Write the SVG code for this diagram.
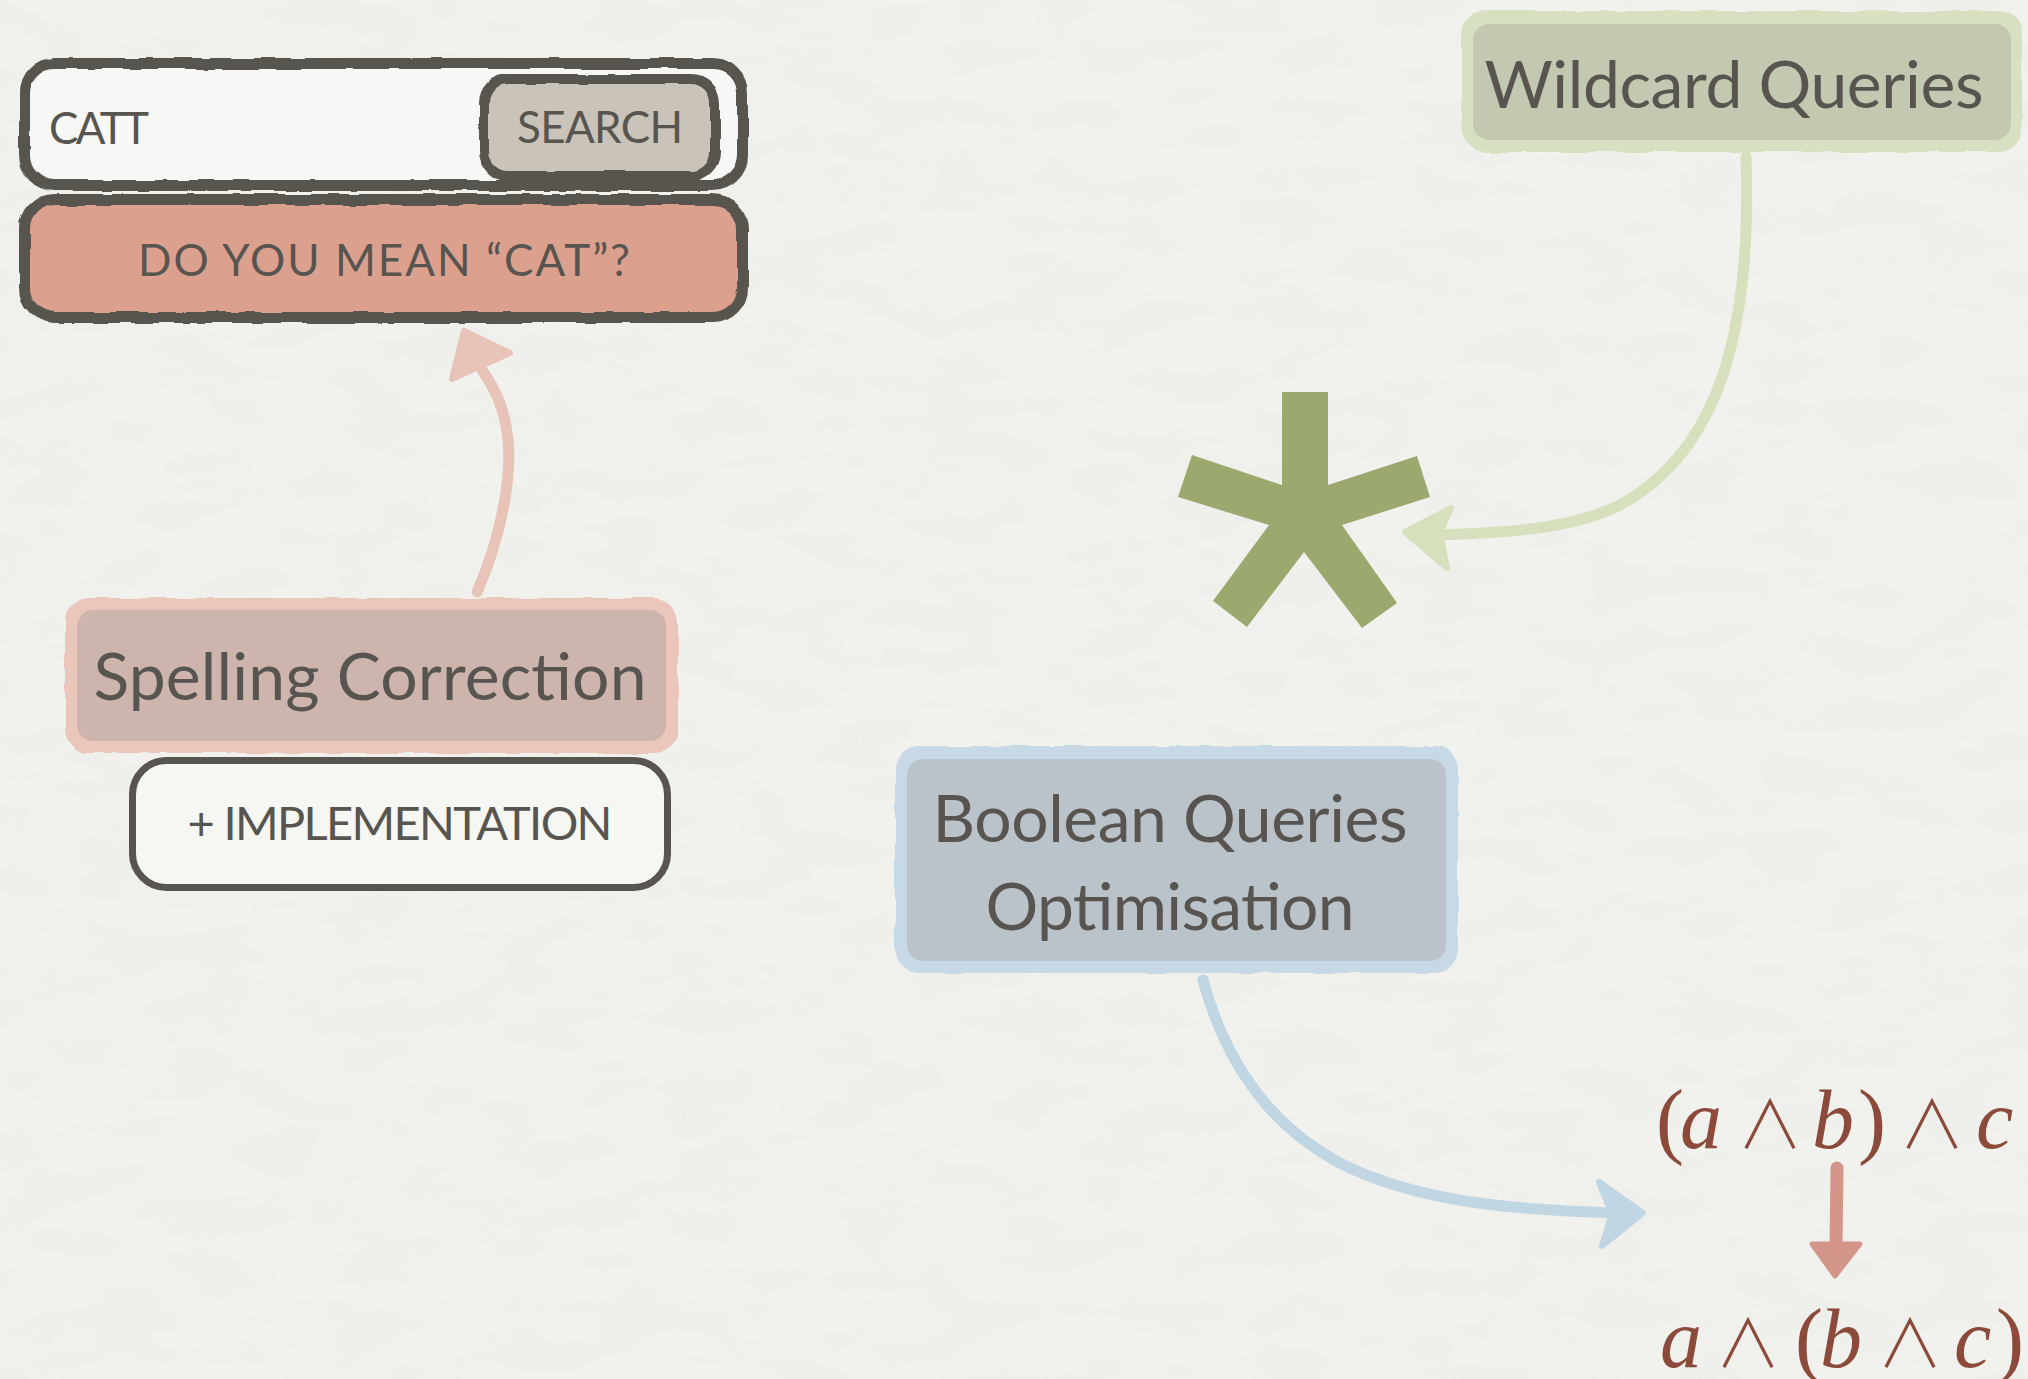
<svg xmlns="http://www.w3.org/2000/svg" width="2028" height="1379" viewBox="0 0 2028 1379">
<style>
.dark{stroke:#58544f;stroke-linejoin:round}
.lbl{font-family:Lato,"Noto Sans","Liberation Sans",sans-serif;fill:#58544f}
.caps{font-size:44px;text-anchor:middle}
.big{font-size:66px;text-anchor:middle}
.math{font-family:"Liberation Serif","DejaVu Serif",serif;fill:#8c4a3b;font-size:84px}
.par{font-family:"Liberation Serif","DejaVu Serif",serif;font-style:normal;text-anchor:start}
.sym{font-family:"Noto Sans CJK JP","DejaVu Sans",sans-serif;font-style:normal;font-size:66px;font-weight:300;text-anchor:middle}
.it{font-family:"Liberation Serif","DejaVu Serif",serif;font-style:italic;text-anchor:start}
.conn{fill:none;stroke-linecap:round;stroke-linejoin:round}
</style>
<defs>
<filter id="rough" x="-5%" y="-5%" width="110%" height="110%">
<feTurbulence type="fractalNoise" baseFrequency="0.035" numOctaves="2" seed="3" result="n"/>
<feDisplacementMap in="SourceGraphic" in2="n" scale="5" xChannelSelector="R" yChannelSelector="G"/>
</filter>
<filter id="paper" x="0" y="0" width="100%" height="100%">
<feTurbulence type="fractalNoise" baseFrequency="0.012 0.03" numOctaves="4" seed="7" result="t"/>
<feColorMatrix in="t" type="matrix" values="0 0 0 0 0.4  0 0 0 0 0.4  0 0 0 0 0.38  0 0 0 -1.2 0.75"/>
</filter>
</defs>
<rect width="2028" height="1379" fill="#f1f1ee"/>
<rect width="2028" height="1379" filter="url(#paper)" opacity="0.08"/>

<g id="search-box">
<rect x="24.5" y="63.5" width="718" height="122" rx="30" fill="#f7f7f5" class="dark" stroke-width="11" filter="url(#rough)"/>
<text class="lbl" x="49" y="144" font-size="44" textLength="100">CATT</text>
</g>
<g id="search-button">
<rect x="484" y="79" width="231" height="97" rx="24" fill="#c9c3b9" class="dark" stroke-width="10" filter="url(#rough)"/>
<text class="lbl caps" x="600" y="143" textLength="166">SEARCH</text>
</g>
<g id="suggestion">
<rect x="24.5" y="199.5" width="718" height="118" rx="30" fill="#dca08e" class="dark" stroke-width="11" filter="url(#rough)"/>
<text class="lbl caps" x="384" y="276" textLength="492">DO YOU MEAN “CAT”?</text>
</g>

<g id="spelling-correction">
<rect x="65" y="598" width="613" height="155" rx="24" fill="#ebc6bb" filter="url(#rough)"/>
<rect x="77" y="610" width="589" height="131" rx="16" fill="#cdb5ad"/>
<text class="lbl big" x="370" y="700" textLength="553">Spelling Correction</text>
</g>
<g id="implementation">
<rect x="132.5" y="760.5" width="535" height="127" rx="34" fill="#f6f6f3" class="dark" stroke-width="7"/>
<text class="lbl" x="400" y="840" font-size="47" text-anchor="middle" textLength="425">+ IMPLEMENTATION</text>
</g>

<g id="wildcard-queries">
<rect x="1462" y="11" width="560" height="141" rx="24" fill="#d7e0c0" filter="url(#rough)"/>
<rect x="1473" y="24" width="538" height="116" rx="16" fill="#c4c8b1"/>
<text class="lbl big" x="1734" y="108" textLength="499">Wildcard Queries</text>
</g>

<g id="asterisk">
<polygon fill="#9ba86e" points="1282,392 1328,392 1328,485 1417,456 1430,497 1342,525 1397,603 1362,628 1304,552 1247,627 1213,601 1269,525 1178,497 1192,455 1282,485"/>
</g>

<g id="boolean-queries">
<rect x="895" y="746" width="563" height="227" rx="24" fill="#c6d9e5" filter="url(#rough)"/>
<rect x="907" y="759" width="539" height="202" rx="16" fill="#bac3ca"/>
<text class="lbl big" x="1170" y="842" textLength="475">Boolean Queries</text>
<text class="lbl big" x="1170" y="930" textLength="369">Optimisation</text>
</g>

<g id="formula">
<text class="math" y="1148"><tspan class="par" x="1656">(</tspan><tspan class="it" x="1680">a</tspan><tspan class="sym" x="1770">∧</tspan><tspan class="it" x="1812">b</tspan><tspan class="par" x="1858">)</tspan><tspan class="sym" x="1932">∧</tspan><tspan class="it" x="1976">c</tspan></text>
<text class="math" y="1367"><tspan class="it" x="1660">a</tspan><tspan class="sym" x="1748">∧</tspan><tspan class="par" x="1795">(</tspan><tspan class="it" x="1820">b</tspan><tspan class="sym" x="1910">∧</tspan><tspan class="it" x="1954">c</tspan><tspan class="par" x="1996">)</tspan></text>
</g>

<g id="connectors">
<path class="conn" stroke="#e8c3b8" stroke-width="11" d="M477,592 C500,540 512,480 508,440 C505,410 496,390 482,370"/>
<polygon fill="#e8c3b8" stroke="#e8c3b8" stroke-width="6" stroke-linejoin="round" points="464,331 452,379 510,353"/>

<path class="conn" stroke="#d6e0bc" stroke-width="11" d="M1746,156 C1752,330 1720,450 1620,505 C1570,530 1500,533 1436,535"/>
<polygon fill="#d6e0bc" stroke="#d6e0bc" stroke-width="6" stroke-linejoin="round" points="1405,532 1451,508 1440,533 1447,568"/>

<path class="conn" stroke="#c1d6e3" stroke-width="11" d="M1203,980 C1230,1080 1290,1150 1380,1180 C1450,1205 1530,1210 1618,1213"/>
<polygon fill="#c1d6e3" stroke="#c1d6e3" stroke-width="6" stroke-linejoin="round" points="1643,1213 1599,1182 1612,1214 1602,1246"/>

<path class="conn" stroke="#d4968a" stroke-width="13" d="M1837,1168 L1836,1245"/>
<polygon fill="#d4968a" stroke="#d4968a" stroke-width="5" stroke-linejoin="round" points="1812,1244 1860,1244 1835,1276"/>
</g>
</svg>
